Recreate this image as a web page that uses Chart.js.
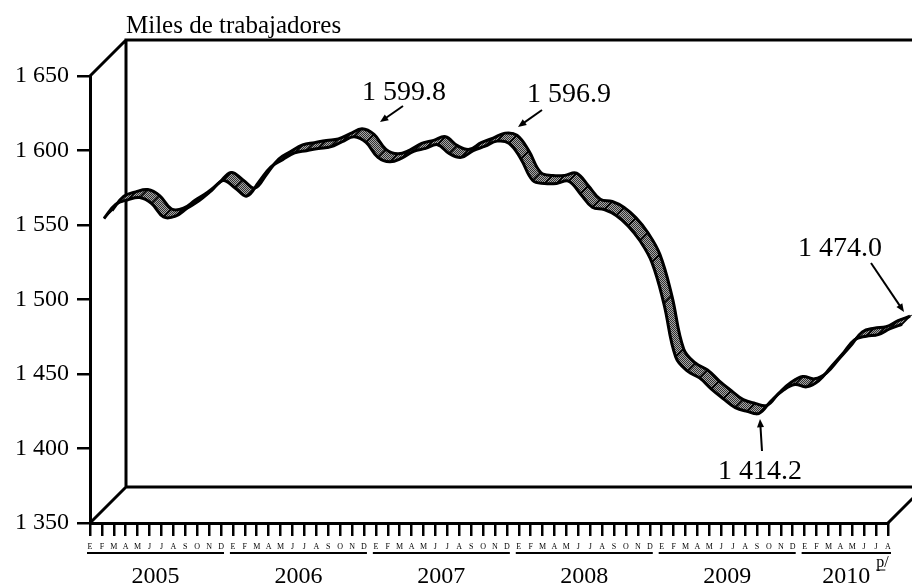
<!DOCTYPE html>
<html>
<head>
<meta charset="utf-8">
<script src="https://cdn.jsdelivr.net/npm/chart.js@4.4.0/dist/chart.umd.min.js"></script>
<style>
  html, body { margin: 0; padding: 0; background: #fff; }
  canvas { display: block; }
</style>
</head>
<body>
<canvas id="chart-trabajadores" width="912" height="585"></canvas>
<script>
var MONTH_LETTERS = ['E', 'F', 'M', 'A', 'M', 'J', 'J', 'A', 'S', 'O', 'N', 'D']
var YEARS = ['2005', '2006', '2007', '2008', '2009', '2010']
var MONTHS_IN_YEAR = [12, 12, 12, 12, 12, 8]
var Y_TICKS = [1350, 1400, 1450, 1500, 1550, 1600, 1650]

// miles de trabajadores, ene 2005 - ago 2010
var Trabajadores = [
  1545.0, 1554.5, 1557.5, 1559.0, 1555.0, 1546.0, 1546.5, 1552.0, 1557.0, 1563.5, 1570.5, 1565.5,
  1560.0, 1569.5, 1579.5, 1584.5, 1589.0, 1590.5, 1592.0, 1593.0, 1596.5, 1599.8, 1596.0, 1586.0,
  1583.0, 1585.5, 1590.0, 1592.0, 1594.5, 1588.5, 1586.0, 1590.5, 1593.5, 1596.9, 1595.5, 1585.0,
  1570.5, 1568.5, 1568.5, 1570.0, 1561.5, 1552.5, 1551.0, 1547.0, 1540.0, 1530.0, 1515.5, 1488.0,
  1452.0, 1442.5, 1438.0, 1430.5, 1424.0, 1418.0, 1415.5, 1414.2, 1422.5, 1429.5, 1433.5, 1432.0,
  1436.0, 1445.0, 1454.0, 1463.5, 1466.0, 1467.0, 1471.0, 1474.0,
]

var NOTES = [
  { text: '1 599.8', x: 362, y: 100, from: [403, 106], to: [380, 122] },
  { text: '1 596.9', x: 527, y: 102, from: [542, 110], to: [518, 127] },
  { text: '1 474.0', x: 798, y: 256, from: [871, 263], to: [904, 312] },
  { text: '1 414.2', x: 718, y: 479, from: [762, 451], to: [760, 419] },
]

var SERIF = '"Liberation Serif", "Times New Roman", serif'
var DEPTH = 36
var RIBBON_FRONT = 14
var RIBBON_BACK = 22

var MonthLabels = []
YEARS.forEach(function (y, k) {
  for (var m = 0; m < MONTHS_IN_YEAR[k]; m++) MonthLabels.push(MONTH_LETTERS[m])
})

function spaced(v) {
  return String(v).replace(/\B(?=(\d{3})+(?!\d))/g, ' ')
}

function grayPattern(ctx) {
  var c = document.createElement('canvas')
  c.width = 2
  c.height = 2
  var g = c.getContext('2d')
  g.fillStyle = '#a8a8a8'
  g.fillRect(0, 0, 2, 2)
  g.fillStyle = '#303030'
  g.fillRect(0, 0, 1, 1)
  g.fillRect(1, 1, 1, 1)
  return ctx.createPattern(c, 'repeat')
}

var frame3d = {
  id: 'frame3d',
  beforeDatasetsDraw: function (chart) {
    var ctx = chart.ctx
    var a = chart.chartArea
    ctx.save()
    ctx.strokeStyle = '#000'
    ctx.lineWidth = 3
    ctx.beginPath()
    ctx.moveTo(a.right + DEPTH, a.top - DEPTH)
    ctx.lineTo(a.left + DEPTH, a.top - DEPTH)
    ctx.lineTo(a.left + DEPTH, a.bottom - DEPTH)
    ctx.lineTo(a.right + DEPTH, a.bottom - DEPTH)
    ctx.moveTo(a.left, a.top)
    ctx.lineTo(a.left + DEPTH, a.top - DEPTH)
    ctx.moveTo(a.left, a.bottom)
    ctx.lineTo(a.left + DEPTH, a.bottom - DEPTH)
    ctx.moveTo(a.right, a.bottom)
    ctx.lineTo(a.right + DEPTH, a.bottom - DEPTH)
    ctx.stroke()
    ctx.restore()
  },
}

function edgePath(ctx, pts, o) {
  ctx.moveTo(pts[0].x + o, pts[0].y - o)
  for (var i = 1; i < pts.length; i++) {
    var p = pts[i - 1], q = pts[i]
    ctx.bezierCurveTo(p.cp2x + o, p.cp2y - o, q.cp1x + o, q.cp1y - o, q.x + o, q.y - o)
  }
}

var ribbon = {
  id: 'ribbon',
  beforeDatasetDraw: function (chart, args) {
    var ctx = chart.ctx
    var meta = args.meta
    var pts = meta.data
    var f = RIBBON_FRONT, b = RIBBON_BACK
    meta.dataset.updateControlPoints(chart.chartArea, 'x')
    ctx.save()
    ctx.fillStyle = grayPattern(ctx)
    ctx.strokeStyle = '#000'
    ctx.lineWidth = 1.5
    for (var i = 0; i < pts.length - 1; i++) {
      var p = pts[i], q = pts[i + 1]
      ctx.beginPath()
      ctx.moveTo(p.x + f, p.y - f)
      ctx.bezierCurveTo(p.cp2x + f, p.cp2y - f, q.cp1x + f, q.cp1y - f, q.x + f, q.y - f)
      ctx.lineTo(q.x + b, q.y - b)
      ctx.bezierCurveTo(q.cp1x + b, q.cp1y - b, p.cp2x + b, p.cp2y - b, p.x + b, p.y - b)
      ctx.closePath()
      ctx.fill()
      ctx.stroke()
    }
    ctx.lineWidth = 3
    ctx.beginPath()
    edgePath(ctx, pts, b)
    ctx.stroke()
    ctx.restore()
    // the library draws the front edge of the ribbon
    ctx.save()
    ctx.translate(f, -f)
  },
  afterDatasetDraw: function (chart) {
    chart.ctx.restore()
  },
}

function arrow(ctx, from, to) {
  var ang = Math.atan2(to[1] - from[1], to[0] - from[0])
  var len = 9
  ctx.beginPath()
  ctx.moveTo(from[0], from[1])
  ctx.lineTo(to[0] - Math.cos(ang) * 4, to[1] - Math.sin(ang) * 4)
  ctx.stroke()
  ctx.beginPath()
  ctx.moveTo(to[0], to[1])
  ctx.lineTo(to[0] - len * Math.cos(ang - 0.4), to[1] - len * Math.sin(ang - 0.4))
  ctx.lineTo(to[0] - len * Math.cos(ang + 0.4), to[1] - len * Math.sin(ang + 0.4))
  ctx.closePath()
  ctx.fill()
}

var texts = {
  id: 'texts',
  afterDraw: function (chart) {
    var ctx = chart.ctx
    var xs = chart.scales.x
    ctx.save()
    ctx.fillStyle = '#000'
    ctx.strokeStyle = '#000'

    ctx.font = '25px ' + SERIF
    ctx.textAlign = 'left'
    ctx.textBaseline = 'alphabetic'
    ctx.fillText('Miles de trabajadores', chart.chartArea.left + DEPTH, 33)

    // years under the month letters
    var start = 0
    ctx.lineWidth = 2
    YEARS.forEach(function (y, k) {
      var end = start + MONTHS_IN_YEAR[k] - 1
      var x0 = xs.getPixelForValue(start)
      var x1 = xs.getPixelForValue(end)
      ctx.beginPath()
      ctx.moveTo(x0 - 3, 553)
      ctx.lineTo(x1 + 3, 553)
      ctx.stroke()
      ctx.font = '24px ' + SERIF
      ctx.textAlign = 'center'
      ctx.fillText(y, (x0 + x1) / 2, 583)
      if (k === YEARS.length - 1) {
        var tx = (x0 + x1) / 2 + 30
        ctx.font = '16px ' + SERIF
        ctx.textAlign = 'left'
        ctx.fillText('p/', tx, 567)
        ctx.lineWidth = 1
        ctx.beginPath()
        ctx.moveTo(tx, 570)
        ctx.lineTo(tx + 9, 570)
        ctx.stroke()
        ctx.lineWidth = 2
      }
      start = end + 1
    })

    ctx.font = '28px ' + SERIF
    ctx.textAlign = 'left'
    ctx.lineWidth = 2
    NOTES.forEach(function (n) {
      ctx.fillText(n.text, n.x, n.y)
      arrow(ctx, n.from, n.to)
    })
    ctx.restore()
  },
}

var ctx = document.getElementById('chart-trabajadores').getContext('2d')

var ChartTrabajadores = new Chart(ctx, {
  type: 'line',
  data: {
    labels: MonthLabels,
    datasets: [
      {
        label: 'Trabajadores',
        data: Trabajadores,
        borderColor: '#000',
        borderWidth: 3,
        pointRadius: 0,
        tension: 0.4,
        fill: false,
        clip: false,
      },
    ],
  },
  options: {
    responsive: false,
    animation: false,
    devicePixelRatio: 1,
    layout: {
      padding: { left: 0, top: 76, right: 24, bottom: 0 },
    },
    plugins: {
      legend: { display: false },
      tooltip: { enabled: false },
    },
    scales: {
      x: {
        offset: false,
        afterFit: function (scale) { scale.height = 62 },
        border: { display: true, color: '#000', width: 3 },
        grid: {
          display: true,
          drawOnChartArea: false,
          drawTicks: true,
          tickLength: 13,
          color: '#000',
          lineWidth: 2.5,
        },
        ticks: {
          autoSkip: false,
          maxRotation: 0,
          minRotation: 0,
          padding: 6,
          color: '#000',
          font: { size: 8, family: SERIF },
        },
      },
      y: {
        min: Y_TICKS[0],
        max: Y_TICKS[Y_TICKS.length - 1],
        afterFit: function (scale) { scale.width = 90 },
        border: { display: true, color: '#000', width: 3 },
        grid: {
          display: true,
          drawOnChartArea: false,
          drawTicks: true,
          tickLength: 13,
          color: '#000',
          lineWidth: 2.5,
        },
        ticks: {
          stepSize: Y_TICKS[1] - Y_TICKS[0],
          padding: 8,
          color: '#000',
          font: { size: 24, family: SERIF },
          callback: function (v) { return spaced(v) },
        },
      },
    },
  },
  plugins: [frame3d, ribbon, texts],
})
</script>
</body>
</html>
